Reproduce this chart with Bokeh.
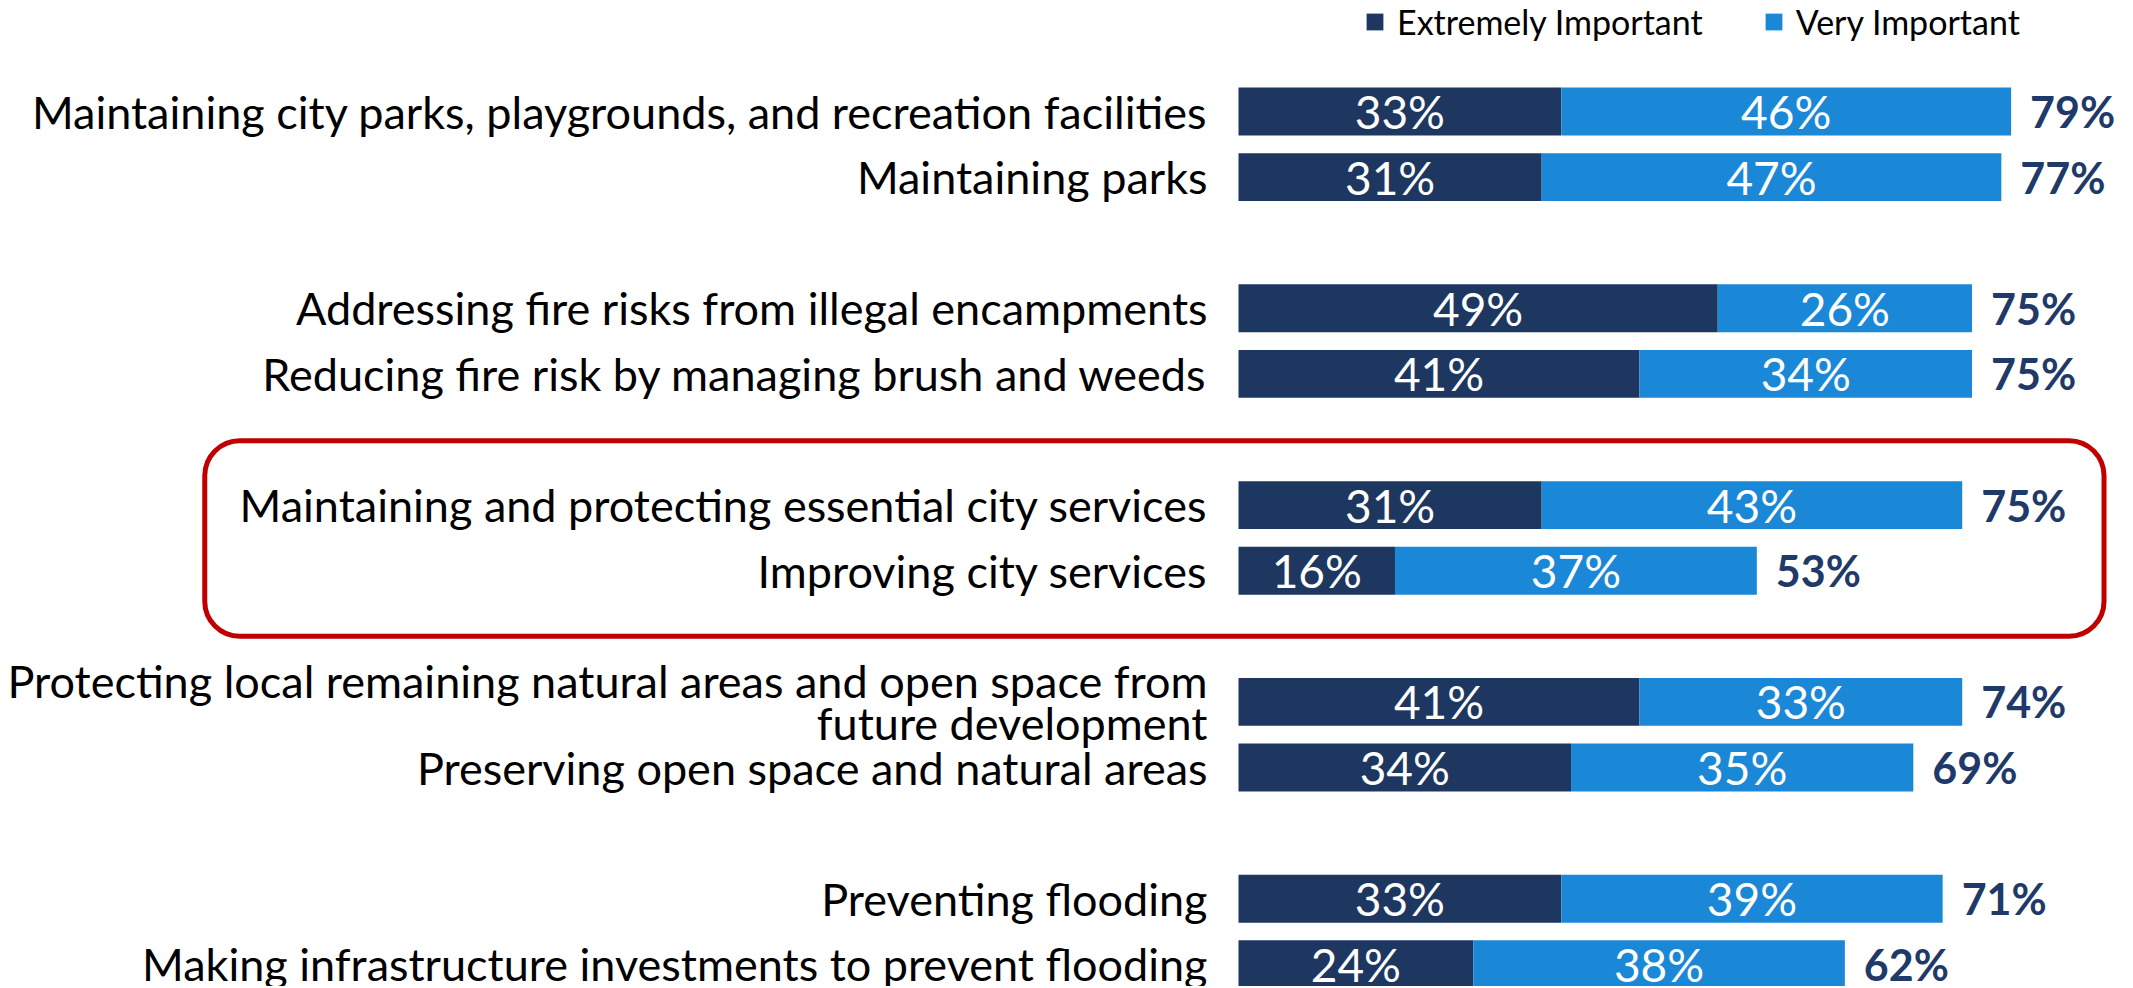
from bokeh.plotting import figure
from bokeh.models import ColumnDataSource, Range1d, BoxAnnotation, Legend, LegendItem
from bokeh.core.properties import value
from bokeh.embed import file_html
from bokeh.resources import INLINE

categories = [
    "Maintaining city parks, playgrounds, and recreation facilities",
    "Maintaining parks",
    "Addressing fire risks from illegal encampments",
    "Reducing fire risk by managing brush and weeds",
    "Maintaining and protecting essential city services",
    "Improving city services",
    "Protecting local remaining natural areas and open space from\nfuture development",
    "Preserving open space and natural areas",
    "Preventing flooding",
    "Making infrastructure investments to prevent flooding",
]
extremely = [33, 31, 49, 41, 31, 16, 41, 34, 33, 24]
very = [46, 47, 26, 34, 43, 37, 33, 35, 39, 38]
totals = [79, 77, 75, 75, 75, 53, 74, 69, 71, 62]
series_names = ["Extremely Important", "Very Important"]
highlight_group = 2

DARK = "#1E3761"
LIGHT = "#1B88D7"
NAVY = "#1F3A68"
FONT = "Lato"

pos = [(i // 2) * 3 + (i % 2) for i in range(len(categories))]
src = ColumnDataSource(dict(
    pos=pos,
    cat=categories,
    ext=extremely,
    very=very,
    ext_mid=[e / 2 for e in extremely],
    very_mid=[e + v / 2 for e, v in zip(extremely, very)],
    end=[e + v for e, v in zip(extremely, very)],
    ext_lbl=[f"{e}%" for e in extremely],
    very_lbl=[f"{v}%" for v in very],
    tot_lbl=[f"{t}%" for t in totals],
))

W, H = 2130, 986
px_per_unit = 9.78
bar_left_px = 1238
step_px = 65.6
first_center_px = 111

p = figure(
    width=W, height=H, output_backend="svg", toolbar_location=None,
    x_range=Range1d(-bar_left_px / px_per_unit, (W - bar_left_px) / px_per_unit),
    y_range=Range1d((H - first_center_px) / step_px, -first_center_px / step_px),
    min_border=0, x_axis_type=None, y_axis_type=None,
)
p.grid.visible = False
p.outline_line_color = None

rs = p.hbar_stack(["ext", "very"], y="pos", height=0.73, color=[DARK, LIGHT],
                  line_color=None, source=src)

p.text(x=0, y="pos", text="cat", source=src, text_align="right", text_baseline="middle",
       x_offset=-31, text_font=value(FONT), text_font_size="45px", text_color="#000000",
       text_line_height=0.78)
p.text(x="ext_mid", y="pos", text="ext_lbl", source=src, text_align="center",
       text_baseline="middle", text_font=value(FONT), text_font_size="46px",
       text_color="white")
p.text(x="very_mid", y="pos", text="very_lbl", source=src, text_align="center",
       text_baseline="middle", text_font=value(FONT), text_font_size="46px",
       text_color="white")
p.text(x="end", y="pos", text="tot_lbl", source=src, text_align="left",
       text_baseline="middle", x_offset=19, text_font=value(FONT), text_font_size="43px",
       text_font_style="bold", text_color=NAVY)

g0 = highlight_group * 3
box = BoxAnnotation(left=-105.7, right=88.5, top=g0 - 0.98, bottom=g0 + 2.0,
                    fill_alpha=0, line_color="#C00000", line_alpha=1.0, line_width=5,
                    border_radius=35)
p.add_layout(box)

legend = Legend(
    items=[LegendItem(label=series_names[0], renderers=[rs[0]]),
           LegendItem(label=series_names[1], renderers=[rs[1]])],
    orientation="horizontal", location=(1364, H - 42),
    padding=0, margin=0, spacing=60, glyph_width=21, glyph_height=21,
    label_standoff=12, label_text_font=FONT, label_text_font_size="34px",
    label_text_color="#000000", border_line_color=None, background_fill_alpha=0,
)
p.add_layout(legend, "center")

open("out.html", "w").write(file_html(p, INLINE))
